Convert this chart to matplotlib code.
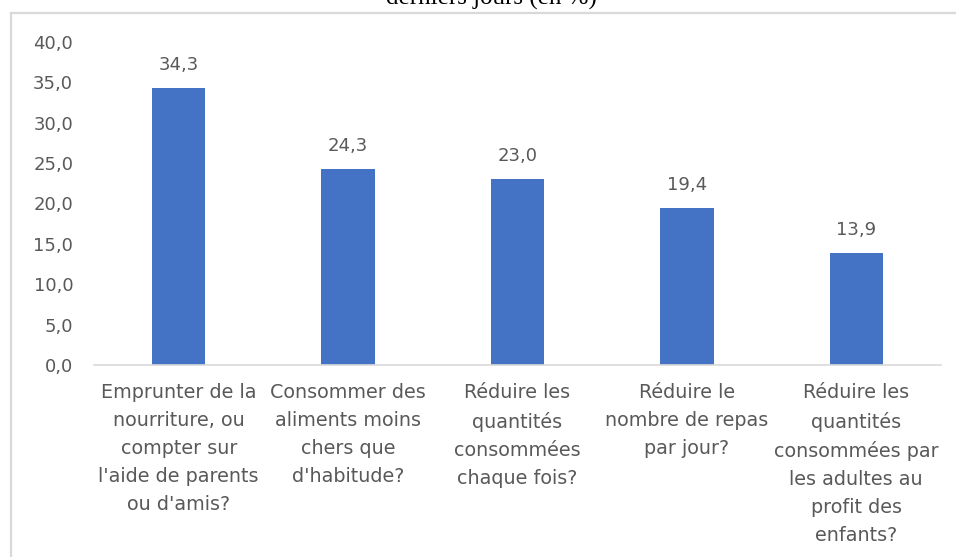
import matplotlib
matplotlib.use('Agg')
import matplotlib.pyplot as plt
from matplotlib.lines import Line2D

# Données (en %)
categories = [
    "Emprunter de la\nnourriture, ou\ncompter sur\nl'aide de parents\nou d'amis?",
    "Consommer des\naliments moins\nchers que\nd'habitude?",
    "Réduire les\nquantités\nconsommées\nchaque fois?",
    "Réduire le\nnombre de repas\npar jour?",
    "Réduire les\nquantités\nconsommées par\nles adultes au\nprofit des\nenfants?",
]
valeurs = [34.3, 24.3, 23.0, 19.4, 13.9]
yticks = [0, 5, 10, 15, 20, 25, 30, 35, 40]

bar_color = '#4472C4'
text_color = '#595959'

plt.rcParams['font.family'] = ['DejaVu Sans']

fig = plt.figure(figsize=(9.56, 5.57), dpi=100)
ax = fig.add_axes([94 / 956, 1 - 365 / 557, (941 - 94) / 956, (365 - 42) / 557])

x = range(len(valeurs))
bars = ax.bar(x, valeurs, width=0.315, color=bar_color, zorder=2)

# Étiquettes de valeur au-dessus des barres
for b, v in zip(bars, valeurs):
    ax.annotate(f"{v:.1f}".replace('.', ','),
                (b.get_x() + b.get_width() / 2, v),
                xytext=(0, 13), textcoords='offset points',
                ha='center', va='baseline', fontsize=13, color=text_color)

ax.set_xlim(-0.5, len(valeurs) - 0.5)
ax.set_ylim(0, 40)
ax.set_yticks(yticks)
ax.set_yticklabels([f"{t:.1f}".replace('.', ',') for t in yticks])
ax.set_xticks(list(x))
ax.set_xticklabels(categories, linespacing=1.6)

ax.tick_params(axis='y', length=0, pad=15, labelsize=13, labelcolor=text_color)
ax.tick_params(axis='x', length=0, pad=13, labelsize=13.8, labelcolor=text_color)

for s in ['top', 'right', 'left']:
    ax.spines[s].set_visible(False)
ax.spines['bottom'].set_color('#d9d9d9')
ax.spines['bottom'].set_linewidth(1.2)

# Cadre du graphique et titre coupé en haut
fig.add_artist(Line2D([11 / 956, 1], [1 - 12.5 / 557] * 2, color='#d9d9d9',
                      lw=1.6, transform=fig.transFigure))
fig.add_artist(Line2D([11 / 956] * 2, [0, 1 - 12.5 / 557], color='#d9d9d9',
                      lw=1.6, transform=fig.transFigure))
fig.text(491 / 956, 1 - 5 / 557, "Pourcentage des ménages ayant dû, au cours des 7\nderniers jours (en %)",
         ha='center', va='baseline', fontsize=18, family='Liberation Serif',
         color='black', ma='center')

fig.savefig('out.png', dpi=100)
